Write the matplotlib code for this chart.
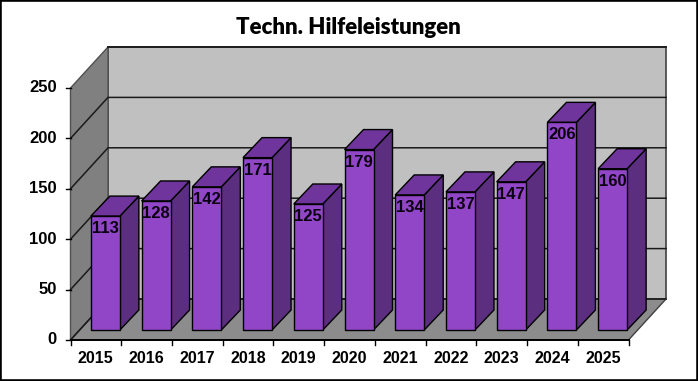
import matplotlib
matplotlib.use("Agg")
import matplotlib.pyplot as plt
from matplotlib.patches import Polygon, Rectangle

years = ["2015", "2016", "2017", "2018", "2019", "2020", "2021", "2022", "2023", "2024", "2025"]
values = [113, 128, 142, 171, 125, 179, 134, 137, 147, 206, 160]
y_ticks = [0, 50, 100, 150, 200, 250]
title = "Techn. Hilfeleistungen"

W, H = 698, 381
fig = plt.figure(figsize=(W / 100, H / 100), dpi=100, facecolor="white")
fig.add_artist(Rectangle((0, 0), 1, 1, transform=fig.transFigure, fc="none", ec="black", lw=2.6, zorder=-1))
ax = fig.add_axes([70.5 / W, 1 - 340 / H, 558 / W, 252 / H])
n = len(years)
ymax = 250
ax.set_xlim(0, n)
ax.set_ylim(0, ymax)
ax.axis("off")

ux = 558 / n       # px per category
uy = 252 / ymax    # px per value unit
DX, DY = 37.5 / ux, 41 / uy      # full depth
BDX, BDY = 19 / ux, 20 / uy      # bar depth
OX, OY = 9.5 / ux, 10 / uy       # bar front offset from front plane
BW = 29 / ux

def poly(pts, fc, ec, lw=1.0, z=1, **kw):
    ax.add_patch(Polygon(pts, closed=True, fc=fc, ec=ec, lw=lw, zorder=z, clip_on=False, joinstyle="miter", **kw))

# walls
poly([(DX, DY), (n + DX, DY), (n + DX, ymax + DY), (DX, ymax + DY)], "#C0C0C0", "#404040", 1.2)
poly([(0, 0), (DX, DY), (DX, ymax + DY), (0, ymax)], "#808080", "#505050", 1.0)
poly([(0, 0), (n, 0), (n + DX, DY), (DX, DY)], "#8C8C8C", "#404040", 1.0)

# gridlines
for t in y_ticks[1:-1]:
    ax.plot([0, DX, n + DX], [t, t + DY, t + DY], color="#1a1a1a", lw=1.1, zorder=2, clip_on=False)
ax.plot([0, DX, n + DX], [0, DY, DY], color="#1a1a1a", lw=1.1, zorder=2, clip_on=False)
ax.plot([DX, n + DX], [ymax + DY] * 2, color="#1a1a1a", lw=1.3, zorder=2, clip_on=False)

# bars
for i, v in enumerate(values):
    x0 = i + 0.5 - BW / 2 + OX
    x1 = x0 + BW
    y0, y1 = OY, OY + v
    z = 3 + i
    poly([(x1, y0), (x1 + BDX, y0 + BDY), (x1 + BDX, y1 + BDY), (x1, y1)], "#5B2E80", "black", 1.0, z)
    poly([(x0, y1), (x1, y1), (x1 + BDX, y1 + BDY), (x0 + BDX, y1 + BDY)], "#70359C", "black", 1.0, z)
    poly([(x0, y0), (x1, y0), (x1, y1), (x0, y1)], "#9146C8", "black", 1.0, z)
    ax.text((x0 + x1) / 2, y1 - 12.5 / uy, str(v), ha="center", va="center", fontsize=12,
            family="Liberation Sans", fontweight="bold", color="#0a0010", zorder=30, clip_on=False)

# axes lines and ticks
ax.plot([0, n], [0, 0], color="black", lw=1.4, zorder=20, clip_on=False)
for i in range(n + 1):
    ax.plot([i, i], [0, -5 / uy], color="black", lw=1.0, zorder=20, clip_on=False)
for i, y in enumerate(years):
    ax.text(i + 0.5, -18.5 / uy, y, ha="center", va="center", fontsize=11.5,
            family="Liberation Sans", fontweight="bold", clip_on=False)
for t in y_ticks:
    ax.plot([0, -5 / ux], [t, t], color="black", lw=1.0, zorder=20, clip_on=False)
    ax.text(-13.5 / ux, t, str(t), ha="right", va="center", fontsize=12,
            family="Liberation Sans", fontweight="bold", clip_on=False)

fig.text(348.5 / W, 1 - 27.5 / H, title, ha="center", va="center", fontsize=16,
         family="Lato", fontweight="heavy", color="black")
fig.savefig("out.png", dpi=100)
